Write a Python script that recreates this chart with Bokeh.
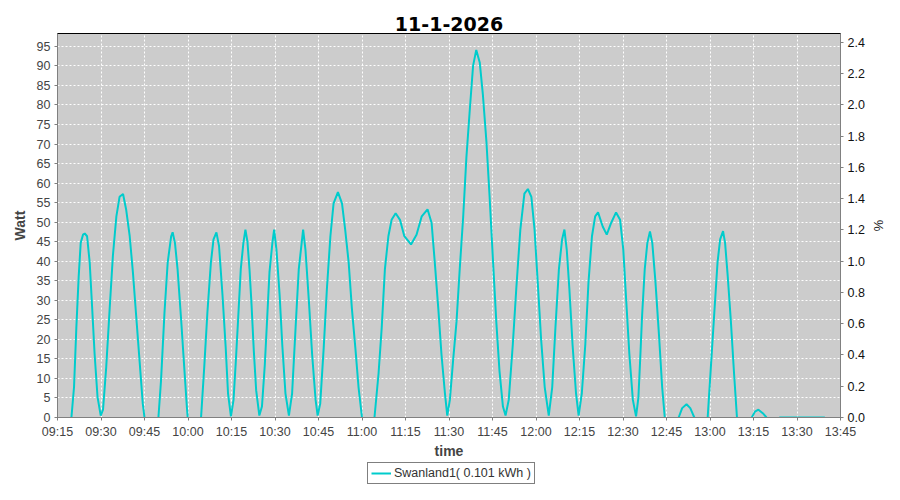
import pandas as pd
from bokeh.plotting import figure
from bokeh.layouts import column
from bokeh.models import (Range1d, LinearAxis, FixedTicker, DatetimeTickFormatter,
                          NumeralTickFormatter, Legend, LegendItem, ColumnDataSource)
from bokeh.embed import file_html
from bokeh.resources import INLINE

# ---------------- data ----------------
chart_title = "11-1-2026"
day = "2026-01-11"
start_clock = "09:15"
end_clock = "13:45"
series_name = "Swanland1( 0.101 kWh )"
capacity_watt = 4000.0   # right axis: percent of capacity

NaN = float("nan")
# minutes after 09:15 and watts (NaN = gap where curve is clipped)
minutes = [
    4.8, 5.7, 6.5, 7.3, 8.0, 8.8, 9.4, 10.2, 11.1, 11.9, 12.8, 13.8, 14.9, 15.7, 16.8, 18.0,
    19.1, 20.3, 21.4, 22.6, 23.7, 24.9, 26.0, 27.1, 28.3, 29.4, 30.0,
    32.4,
    34.8, 35.7, 36.9, 38.0, 39.2, 39.7, 40.5, 41.4, 42.6, 43.7, 44.6, 44.9,
    47.2,
    49.5, 50.6, 51.7, 52.9, 53.8, 54.8, 55.7, 56.9, 58.0, 58.8, 59.8, 60.7, 61.5, 62.3, 63.2,
    64.1, 64.8, 65.5, 66.2, 66.9, 67.7, 68.5, 69.6, 70.5, 71.5, 72.3, 73.1, 74.1, 74.7, 75.5,
    76.6, 77.5, 78.6, 79.8, 80.9, 82.1, 83.2, 84.2, 84.7, 85.5, 86.7, 87.8, 89.0, 89.7, 90.6,
    91.8, 92.9, 94.1, 95.2, 96.7, 98.1, 99.2, 100.4, 101.5, 102.7, 103.8, 105.0,
    107.1,
    109.3, 110.7, 111.8, 112.9, 114.1, 115.2, 116.6, 118.1, 119.6, 121.9, 123.8, 125.6, 127.6,
    129.0, 130.1, 131.3, 132.4, 133.6, 134.4, 135.3, 136.4, 137.6, 138.7, 139.9, 141.0, 142.2,
    143.3, 144.4, 145.6, 146.7, 147.9, 149.0, 150.2, 151.3, 152.4, 153.6, 154.5, 155.6, 157.0,
    158.2, 159.6, 161.0, 162.2, 163.4, 164.5, 165.6, 166.8, 168.0, 169.4, 170.6, 171.7, 172.9,
    174.0, 174.8, 175.6, 176.5, 177.6, 178.8, 179.7, 180.8, 182.0, 183.1, 184.3, 185.4, 186.4,
    188.0, 189.4, 190.9, 192.6, 194.0, 195.1, 196.0, 197.2, 198.4, 199.5, 200.3, 200.9, 201.6,
    202.5, 203.4, 204.3, 205.1, 206.2, 207.4, 208.5, 209.4,
    211.8,
    214.2, 215.4, 216.9, 218.2, 219.6,
    221.9,
    224.2, 225.3, 226.5, 227.6, 228.5, 229.5, 230.2, 231.1, 232.2, 233.3, 234.3,
    236.8,
    239.4, 240.5, 241.7, 243.2, 244.5,
    246.7,
    248.9, 264.6,
]
watts = [
    0, 7.8, 23, 36, 44.7, 46.8, 47.1, 46.4, 39.7, 28.8, 16.2, 5.3, 0.5, 2, 12.9, 28,
    41.4, 51.5, 56.5, 57.2, 53.1, 46.4, 37.2, 26.3, 14.5, 3.6, 0,
    NaN,
    0, 9.5, 27, 39.7, 46.4, 47.4, 44.7, 38, 25.4, 12.9, 2.8, 0,
    NaN,
    0, 12.9, 27, 39.7, 45.6, 47.4, 43.9, 31.3, 17.9, 6.2, 0.3, 4.5, 14.5, 25.4, 38,
    44.7, 48.1, 45, 38, 29, 17, 7, 0.5, 2.8, 13.7, 25.4, 37.2, 44.7, 48.1, 43,
    31.3, 18.7, 6.2, 0.5, 6.2, 23, 38, 44.7, 48.1, 43, 29.6, 16.2, 4.5, 0.5, 3.6,
    17.9, 33, 46.4, 54.8, 57.7, 54.8, 48.1, 39.7, 28, 17.9, 7.8, 0,
    NaN,
    0, 11.2, 23, 38, 46.4, 50.6, 52.3, 50.6, 46.4, 44.3, 46.8, 51.5, 53.3,
    49.8, 39.7, 28, 16.2, 6.2, 0.5, 4.5, 14.5, 24.6, 38, 51.5, 66.6, 79.1,
    90, 94.1, 90.9, 82.5, 70.7, 56.5, 39.7, 24.6, 12, 2.8, 0.5, 4.5, 18.7,
    33, 48.1, 57.3, 58.5, 56.5, 48.1, 34.6, 19.6, 7.8, 0.5, 7.8, 23, 38,
    45.6, 48.1, 43, 33, 18.7, 6.2, 0.5, 6.2, 18.7, 34.6, 46.4, 51.5, 52.5,
    48.9, 46.8, 49.8, 52.5, 50.6, 43, 31.3, 16.2, 4.5, 0.3, 5, 14.5, 26.3,
    38, 44.7, 47.6, 44.7, 34.6, 21.2, 7.8, 0,
    NaN,
    0, 2.4, 3.4, 2.4, 0,
    NaN,
    0, 12.9, 27, 39.7, 45.6, 47.7, 44.7, 36.3, 24.6, 11.2, 0,
    NaN,
    0, 1.5, 2, 1.1, 0,
    NaN,
    0, 0,
]
x_tick_labels = ["09:15", "09:30", "09:45", "10:00", "10:15", "10:30", "10:45", "11:00",
                 "11:15", "11:30", "11:45", "12:00", "12:15", "12:30", "12:45", "13:00",
                 "13:15", "13:30", "13:45"]
watt_ticks = [0, 5, 10, 15, 20, 25, 30, 35, 40, 45, 50, 55, 60, 65, 70, 75, 80, 85, 90, 95]
pct_ticks = [0.0, 0.2, 0.4, 0.6, 0.8, 1.0, 1.2, 1.4, 1.6, 1.8, 2.0, 2.2, 2.4]
watt_max = 98.3

# ---------------- build ----------------
t0 = pd.Timestamp(f"{day} {start_clock}")
times = [t0 + pd.Timedelta(minutes=m) for m in minutes]
src = ColumnDataSource(dict(t=times, w=watts))

def ms(label):
    return pd.Timestamp(f"{day} {label}").value // 10**6

x_ticks = [ms(l) for l in x_tick_labels]

LINE_COLOR = "#00CCCC"
FRAME_W, FRAME_H = 783, 384
BORDER_L, BORDER_R, BORDER_T, BORDER_B = 57, 44, 33, 43
LEGEND_H = 24

p = figure(frame_width=FRAME_W, frame_height=FRAME_H, x_axis_type="datetime",
           x_range=Range1d(ms(start_clock), ms(end_clock)),
           y_range=Range1d(0, watt_max),
           output_backend="svg", toolbar_location=None,
           min_border_left=BORDER_L, min_border_right=BORDER_R,
           min_border_top=BORDER_T, min_border_bottom=BORDER_B)

p.title.text = chart_title
p.title.align = "center"
p.title.vertical_align = "middle"
p.title.text_font = "DejaVu Sans"
p.title.text_font_style = "bold"
p.title.text_font_size = "19px"
p.title.text_color = "black"
p.title.standoff = 4

p.background_fill_color = "#CCCCCC"
p.border_fill_color = "white"
p.outline_line_color = "black"
p.outline_line_width = 1

r = p.line("t", "w", source=src, line_color=LINE_COLOR, line_width=2)

tick_font = "Liberation Sans"
for ax in [p.xaxis[0], p.yaxis[0]]:
    ax.axis_line_color = "#808080"
    ax.major_tick_line_color = "#808080"
    ax.minor_tick_line_color = None
    ax.major_tick_in = 0
    ax.major_tick_out = 3
    ax.major_label_text_font = tick_font
    ax.major_label_text_font_size = "12.5px"
    ax.major_label_text_color = "#444444"
    ax.axis_label_text_font = "Liberation Sans"
    ax.axis_label_text_font_style = "bold"
    ax.axis_label_text_font_size = "14px"
    ax.axis_label_text_color = "#444444"

p.xaxis.ticker = FixedTicker(ticks=x_ticks)
p.xaxis.formatter = DatetimeTickFormatter(minutes="%H:%M", hours="%H:%M", minsec="%H:%M",
                                          hourmin="%H:%M")
p.xaxis.axis_label = "time"
p.xaxis.major_label_standoff = 4
p.xaxis.axis_label_standoff = 1

p.yaxis.ticker = FixedTicker(ticks=watt_ticks)
p.yaxis.axis_label = "Watt"
p.yaxis.major_label_standoff = 4
p.yaxis.axis_label_standoff = 6

p.xgrid.ticker = FixedTicker(ticks=x_ticks)
p.ygrid.ticker = FixedTicker(ticks=watt_ticks)
for g in [p.xgrid[0], p.ygrid[0]]:
    g.grid_line_color = "white"
    g.grid_line_dash = "2 2"
    g.grid_line_width = 1

p.extra_y_ranges = {"pct": Range1d(0, watt_max * 100.0 / capacity_watt)}
ax2 = LinearAxis(y_range_name="pct", ticker=FixedTicker(ticks=pct_ticks),
                 formatter=NumeralTickFormatter(format="0.0"), axis_label="%")
ax2.axis_line_color = "#808080"
ax2.major_tick_line_color = "#808080"
ax2.minor_tick_line_color = None
ax2.major_tick_in = 0
ax2.major_tick_out = 3
ax2.major_label_standoff = 4
ax2.major_label_text_font = tick_font
ax2.major_label_text_font_size = "12.5px"
ax2.major_label_text_color = "#111111"
ax2.axis_label_text_font = "Liberation Sans"
ax2.axis_label_text_font_style = "normal"
ax2.axis_label_text_font_size = "13px"
ax2.axis_label_text_color = "#222222"
ax2.axis_label_standoff = 3
p.add_layout(ax2, "right")

# ---------------- legend strip under the chart ----------------
# (the strip's frame is aligned with the chart's frame by the column layout)
total_w = BORDER_L + FRAME_W + BORDER_R
pl = figure(width=total_w, height=LEGEND_H, x_range=Range1d(0, 1), y_range=Range1d(0, 1),
            output_backend="svg", toolbar_location=None,
            x_axis_location=None, y_axis_location=None, min_border=0)
pl.grid.visible = False
pl.outline_line_color = None
pl.background_fill_color = "white"
pl.border_fill_color = "white"
# same series, drawn out of this strip's view; it only supplies the legend swatch
swatch = pl.line("t", "w", source=src, line_color=LINE_COLOR, line_width=2)

legend = Legend(items=[LegendItem(label=series_name, renderers=[swatch])],
                location=(310, 1), orientation="horizontal")
legend.border_line_color = "black"
legend.border_line_width = 1
legend.background_fill_color = "white"
legend.background_fill_alpha = 1
legend.label_text_font = "Liberation Sans"
legend.label_text_font_size = "12.5px"
legend.label_text_color = "#333333"
legend.glyph_width = 20
legend.glyph_height = 12
legend.padding = 3
legend.margin = 0
legend.spacing = 0
legend.label_standoff = 3
legend.label_height = 14
pl.add_layout(legend)

layout = column(p, pl, spacing=0)
open("out.html", "w").write(file_html(layout, INLINE))
